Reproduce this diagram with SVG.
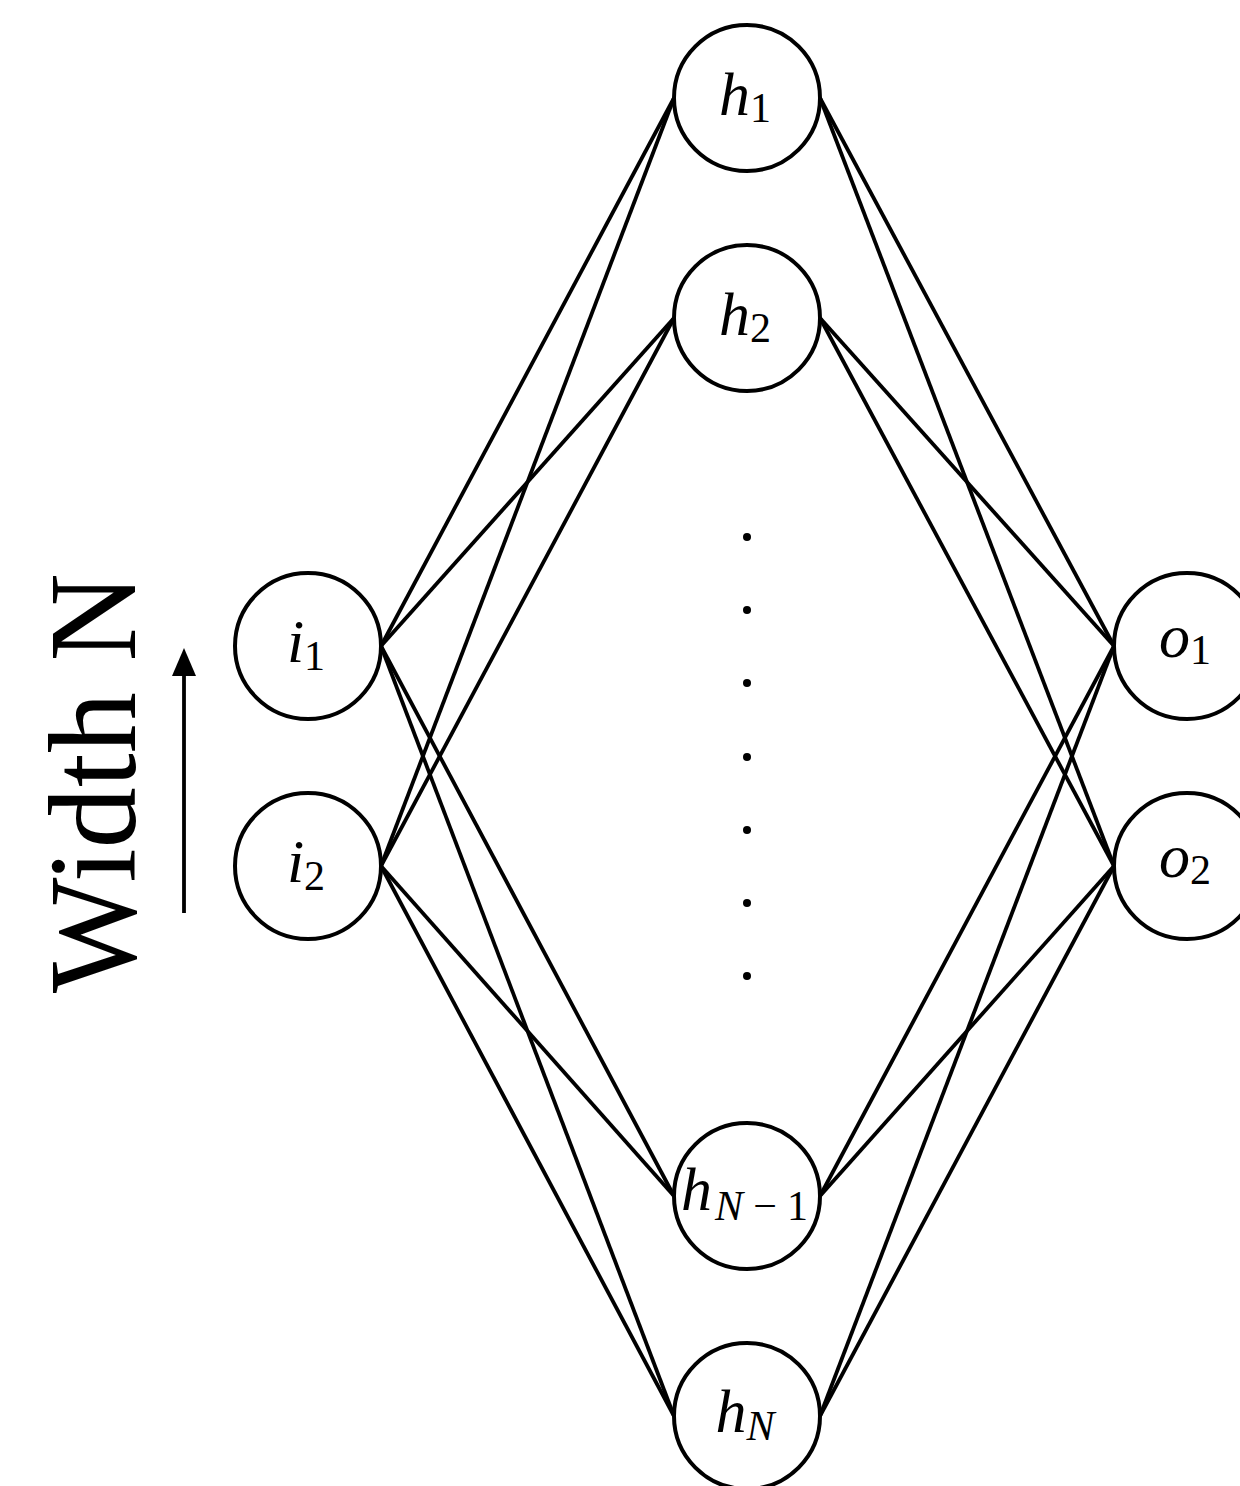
<svg xmlns="http://www.w3.org/2000/svg" width="1240" height="1486" viewBox="0 0 1240 1486">
<defs>
<style>
.node{fill:#fff;stroke:#000;stroke-width:4}
.edge{stroke:#000;stroke-width:3.8;fill:none}
.lbl{font-family:"Liberation Serif","DejaVu Serif",serif;font-size:62px;fill:#000}
.it{font-style:italic}
.sub{font-size:42px}
.dot{fill:#000}
.title{font-family:"Liberation Serif","DejaVu Serif",serif;font-size:124px;fill:#000}
</style>
</defs>
<rect width="1240" height="1486" fill="#fff"/>
<g id="connectors">
<line class="edge" x1="381" y1="646" x2="674" y2="98"/>
<line class="edge" x1="381" y1="646" x2="674" y2="318"/>
<line class="edge" x1="381" y1="646" x2="674" y2="1196"/>
<line class="edge" x1="381" y1="646" x2="674" y2="1416"/>
<line class="edge" x1="381" y1="866" x2="674" y2="98"/>
<line class="edge" x1="381" y1="866" x2="674" y2="318"/>
<line class="edge" x1="381" y1="866" x2="674" y2="1196"/>
<line class="edge" x1="381" y1="866" x2="674" y2="1416"/>
<line class="edge" x1="820" y1="98" x2="1114" y2="646"/>
<line class="edge" x1="820" y1="98" x2="1114" y2="866"/>
<line class="edge" x1="820" y1="318" x2="1114" y2="646"/>
<line class="edge" x1="820" y1="318" x2="1114" y2="866"/>
<line class="edge" x1="820" y1="1196" x2="1114" y2="646"/>
<line class="edge" x1="820" y1="1196" x2="1114" y2="866"/>
<line class="edge" x1="820" y1="1416" x2="1114" y2="646"/>
<line class="edge" x1="820" y1="1416" x2="1114" y2="866"/>
</g>
<g id="i1"><circle class="node" cx="308" cy="646" r="73"/><text class="lbl" x="306" y="662" text-anchor="middle"><tspan class="it">i</tspan><tspan class="sub" dy="8">1</tspan></text></g>
<g id="i2"><circle class="node" cx="308" cy="866" r="73"/><text class="lbl" x="306" y="882" text-anchor="middle"><tspan class="it">i</tspan><tspan class="sub" dy="8">2</tspan></text></g>
<g id="h1"><circle class="node" cx="747" cy="98" r="73"/><text class="lbl" x="745" y="115" text-anchor="middle"><tspan class="it">h</tspan><tspan class="sub" dy="7">1</tspan></text></g>
<g id="h2"><circle class="node" cx="747" cy="318" r="73"/><text class="lbl" x="745" y="335" text-anchor="middle"><tspan class="it">h</tspan><tspan class="sub" dy="7">2</tspan></text></g>
<g id="hN-1"><circle class="node" cx="747" cy="1196" r="73"/><text class="lbl" x="681" y="1210"><tspan class="it">h</tspan><tspan class="sub" x="715" dy="10" textLength="93" lengthAdjust="spacing"><tspan class="it">N</tspan>−1</tspan></text></g>
<g id="hN"><circle class="node" cx="747" cy="1416" r="73"/><text class="lbl" x="745" y="1432" text-anchor="middle"><tspan class="it">h</tspan><tspan class="sub it" dy="8">N</tspan></text></g>
<g id="o1"><circle class="node" cx="1187" cy="646" r="73"/><text class="lbl" x="1185" y="657" text-anchor="middle"><tspan class="it">o</tspan><tspan class="sub" dy="7">1</tspan></text></g>
<g id="o2"><circle class="node" cx="1187" cy="866" r="73"/><text class="lbl" x="1185" y="877" text-anchor="middle"><tspan class="it">o</tspan><tspan class="sub" dy="7">2</tspan></text></g>
<g id="dots">
<circle class="dot" cx="747" cy="537" r="4"/>
<circle class="dot" cx="747" cy="610" r="4"/>
<circle class="dot" cx="747" cy="683" r="4"/>
<circle class="dot" cx="747" cy="757" r="4"/>
<circle class="dot" cx="747" cy="830" r="4"/>
<circle class="dot" cx="747" cy="903" r="4"/>
<circle class="dot" cx="747" cy="976" r="4"/>
</g>
<g id="width-arrow">
<line class="edge" x1="184" y1="913" x2="184" y2="672"/>
<polygon points="184,648 172,676 196,676" fill="#000"/>
</g>
<g id="width-label">
<text class="title" transform="translate(135,783) rotate(-90)" text-anchor="middle" textLength="420" lengthAdjust="spacingAndGlyphs">Width N</text>
</g>
</svg>
